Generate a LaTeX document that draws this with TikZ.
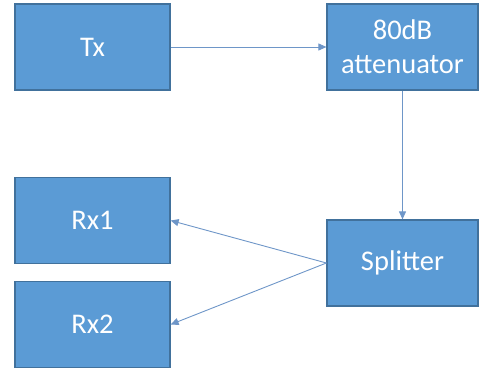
\documentclass[tikz,border=0pt]{standalone}
\usepackage{fontspec}
\setmainfont{Carlito}
\usetikzlibrary{arrows.meta}
\definecolor{boxfill}{HTML}{5B9BD5}
\definecolor{boxedge}{HTML}{41719C}
\definecolor{linkcol}{HTML}{6E96C8}
\tikzset{
  blockbox/.style={draw=boxedge, fill=boxfill, line width=1.2pt, text=white,
    minimum width=155pt, minimum height=86pt, inner sep=0pt, align=center,
    font=\fontsize{28.5}{34}\selectfont},
  link/.style={draw=linkcol, line width=0.9pt, -{Triangle[length=8pt,width=7pt]}}
}

\begin{document}
\begin{tikzpicture}[x=1pt,y=-1pt]
    \useasboundingbox (0,0) rectangle (479,369);
    % transmitter chain on top
    \node[blockbox] (tx) at (92.5,47) {Tx};
    \node[blockbox, minimum width=151pt] (att) at (402.5,47) {80dB\\attenuator};
    % receivers on the left, splitter on the right
    \node[blockbox] (rx1) at (92.5,220.5) {Rx1};
    \node[blockbox] (rx2) at (92.5,324.5) {Rx2};
    \node[blockbox, minimum width=151pt] (split) at (402.5,263) {Splitter};
    \draw[link] (tx.east) -- (att.west);
    \draw[link] (att.south) -- (split.north);
    \foreach \r in {rx1,rx2}
        \draw[link] (split.west) -- (\r.east);
\end{tikzpicture}
\end{document}
